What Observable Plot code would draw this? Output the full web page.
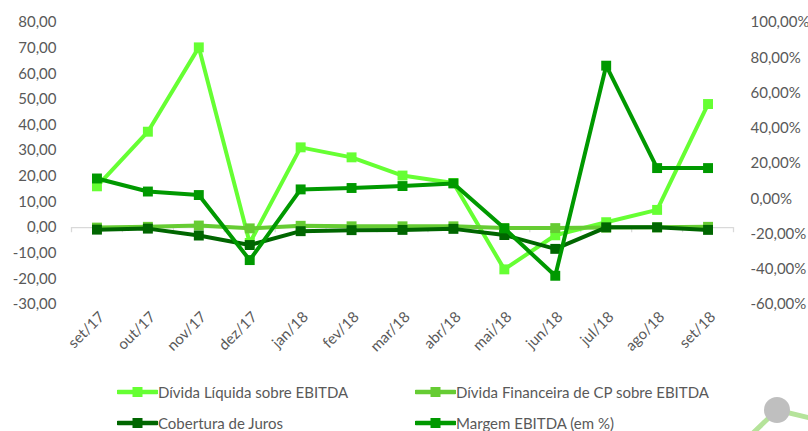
<!DOCTYPE html>
<html><head><meta charset="utf-8">
<script src="https://cdn.jsdelivr.net/npm/d3@7"></script>
<script src="https://cdn.jsdelivr.net/npm/@observablehq/plot@0.6"></script>
<style>
body{margin:0;background:#fff;}
#wrap{position:relative;width:808px;height:431px;overflow:hidden;font-family:Lato, "Open Sans", sans-serif;color:#595959;}
#chart{position:absolute;left:0;top:0;}
.li{position:absolute;display:flex;align-items:center;font-size:15px;white-space:nowrap;height:20px;}
.li svg{display:block;}
#deco{position:absolute;left:0;top:0;}
</style></head><body><div id="wrap"><div id="chart"></div></div>
<script>
const months = ["set/17","out/17","nov/17","dez/17","jan/18","fev/18","mar/18","abr/18","mai/18","jun/18","jul/18","ago/18","set/18"];
const dividaLiquida = [16.1, 37.4, 70.3, -6.0, 31.3, 27.4, 20.3, 17.4, -16.3, -3.0, 2.1, 6.9, 48.2];
const dividaCP = [0.0, 0.3, 0.8, -0.3, 0.7, 0.5, 0.5, 0.5, -0.2, -0.2, 0.0, 0.1, 0.3];
const cobertura = [-0.8, -0.4, -3.1, -6.8, -1.4, -1.0, -0.9, -0.5, -2.9, -8.3, 0.1, 0.1, -0.9];
const margemPct = [11.5, 4.1, 2.1, -34.8, 5.3, 6.1, 7.2, 8.7, -16.8, -43.7, 75.5, 17.4, 17.4];
const leftTicks = [-30,-20,-10,0,10,20,30,40,50,60,70,80];
const rightTicks = [-60,-40,-20,0,20,40,60,80,100];
const seriesNames = ["Dívida Líquida sobre EBITDA","Dívida Financeira de CP sobre EBITDA","Cobertura de Juros","Margem EBITDA (em %)"];
const seriesColors = ["#66FF33","#66CC33","#006600","#009900"];

// secondary axis mapping: left [-30,80] <-> right [-60%,100%]
const toLeft = p => -30 + (p + 60) * 110 / 160;
const toPct = v => Math.round((v + 30) * 160 / 110 - 60);
const fmt = v => v.toFixed(2).replace(".", ",");

const rows = months.map((m, i) => ({i, m, liq: dividaLiquida[i], cp: dividaCP[i], cob: cobertura[i], mar: toLeft(margemPct[i])}));
const keys = ["liq","cp","cob","mar"];
const boundaries = d3.range(14).map(k => k - 0.5);

const marks = [
  Plot.ruleY([0], {x1: -0.5, x2: 12.5, stroke: "#d9d9d9", strokeWidth: 1.3}),
  Plot.ruleX(boundaries, {x: d => d, y1: 0, y2: -2, stroke: "#d9d9d9", strokeWidth: 1.3}),
  Plot.axisY(leftTicks, {anchor: "left", tickSize: 0, tickPadding: 15, tickFormat: fmt, fontSize: 15, fill: "#595959", label: null}),
  Plot.axisY(rightTicks.map(toLeft), {anchor: "right", tickSize: 0, tickPadding: 17, tickFormat: v => fmt(toPct(v)) + "%", fontSize: 15, fill: "#595959", label: null}),
  Plot.axisX(d3.range(13), {anchor: "bottom", tickSize: 0, tickPadding: 6, dx: 5, dy: 4, tickRotate: -45, tickFormat: i => months[i], fontSize: 15, fill: "#595959", label: null})
];
keys.forEach((k, j) => {
  marks.push(Plot.line(rows, {x: "i", y: k, stroke: seriesColors[j], strokeWidth: 4, strokeLinejoin: "round"}));
  marks.push(Plot.dot(rows, {x: "i", y: k, symbol: "square", r: 5.6, fill: seriesColors[j], stroke: "none"}));
});

const chart = Plot.plot({
  width: 808, height: 375,
  marginLeft: 71, marginRight: 75, marginTop: 22, marginBottom: 71,
  x: {type: "linear", domain: [-0.5, 12.5], axis: null, label: null},
  y: {domain: [-30, 80], axis: null, label: null},
  style: {fontFamily: "Lato, 'Open Sans', sans-serif", color: "#595959", background: "transparent"},
  marks
});
const wrap = document.getElementById("wrap");
document.getElementById("chart").appendChild(chart);

// decoration (slide artifact)
const ns = "http://www.w3.org/2000/svg";
const deco = document.createElementNS(ns, "svg");
deco.setAttribute("id", "deco"); deco.setAttribute("width", 808); deco.setAttribute("height", 431);
deco.innerHTML = '<path d="M752,434 L777,410 L810,418" fill="none" stroke="#b5e39a" stroke-width="5"/><circle cx="777" cy="410" r="13" fill="#bfbfbf"/>';
wrap.appendChild(deco);

// legend
const pos = [[117, 392], [415, 392], [117, 423], [415, 423]];
seriesNames.forEach((name, j) => {
  const d = document.createElement("div");
  d.className = "li";
  d.style.left = pos[j][0] + "px";
  d.style.top = (pos[j][1] - 10) + "px";
  d.innerHTML = `<svg width="41" height="20"><line x1="1" y1="10" x2="40" y2="10" stroke="${seriesColors[j]}" stroke-width="4.5" stroke-linecap="round"/><rect x="15.5" y="5" width="10" height="10" fill="${seriesColors[j]}"/></svg><span>${name}</span>`;
  wrap.appendChild(d);
});
</script>
</body></html>
